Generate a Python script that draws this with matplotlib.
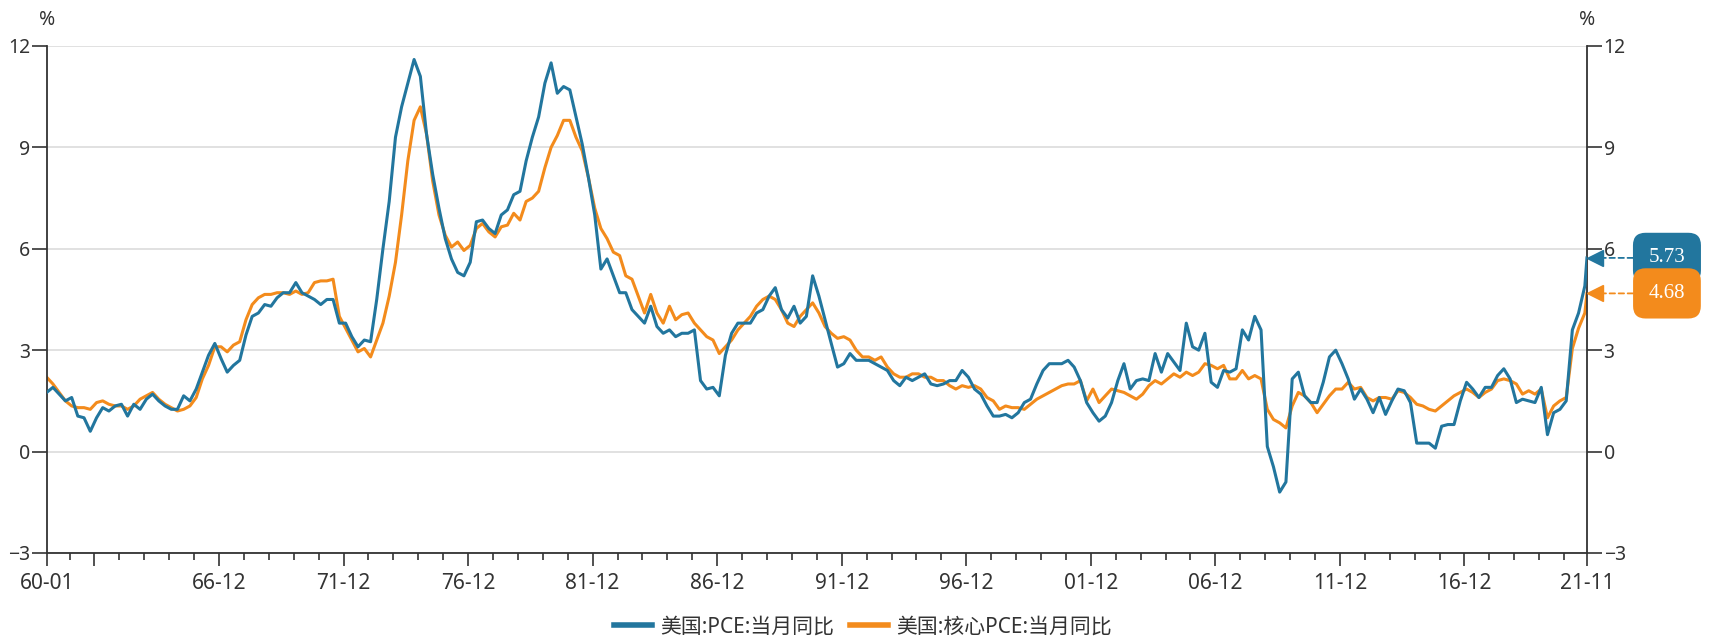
import matplotlib
matplotlib.use("Agg")
import matplotlib.pyplot as plt
import matplotlib.transforms as mtransforms
import numpy as np
import pandas as pd

# quarterly readings (Jan, Apr, Jul, Oct) 1960-2021, then 2021-11
pce = [
    1.75, 1.9, 1.7, 1.5,    1.6, 1.05, 1.0, 0.6,    1.0, 1.3, 1.2, 1.35,
    1.4, 1.05, 1.4, 1.25,   1.55, 1.7, 1.5, 1.35,   1.25, 1.25, 1.65, 1.5,
    1.85, 2.35, 2.85, 3.2,  2.75, 2.35, 2.55, 2.7,  3.45, 4.0, 4.1, 4.35,
    4.3, 4.55, 4.7, 4.7,    5.0, 4.7, 4.6, 4.5,     4.35, 4.5, 4.5, 3.8,
    3.8, 3.4, 3.1, 3.3,     3.25, 4.5, 6.0, 7.4,    9.3, 10.2, 10.9, 11.6,
    11.1, 9.4, 8.2, 7.2,    6.3, 5.7, 5.3, 5.2,     5.6, 6.8, 6.85, 6.6,
    6.45, 7.0, 7.15, 7.6,   7.7, 8.6, 9.3, 9.9,     10.9, 11.5, 10.6, 10.8,
    10.7, 9.9, 9.1, 8.1,    7.0, 5.4, 5.7, 5.2,     4.7, 4.7, 4.2, 4.0,
    3.8, 4.3, 3.7, 3.5,     3.6, 3.4, 3.5, 3.5,     3.6, 2.1, 1.85, 1.9,
    1.65, 2.85, 3.5, 3.8,   3.8, 3.8, 4.1, 4.2,     4.6, 4.85, 4.2, 3.95,
    4.3, 3.8, 4.0, 5.2,     4.6, 3.9, 3.2, 2.5,     2.6, 2.9, 2.7, 2.7,
    2.7, 2.6, 2.5, 2.4,     2.1, 1.95, 2.2, 2.1,    2.2, 2.3, 2.0, 1.95,
    2.0, 2.1, 2.1, 2.4,     2.2, 1.85, 1.7, 1.35,   1.05, 1.05, 1.1, 1.0,
    1.15, 1.45, 1.55, 2.0,  2.4, 2.6, 2.6, 2.6,     2.7, 2.5, 2.1, 1.45,
    1.15, 0.9, 1.05, 1.45,  2.1, 2.6, 1.85, 2.1,    2.15, 2.1, 2.9, 2.35,
    2.9, 2.65, 2.4, 3.8,    3.1, 3.0, 3.5, 2.05,    1.9, 2.4, 2.35, 2.45,
    3.6, 3.3, 4.0, 3.6,     0.15, -0.45, -1.2, -0.9, 2.15, 2.35, 1.65, 1.45,
    1.45, 2.05, 2.8, 3.0,   2.6, 2.15, 1.55, 1.85,  1.55, 1.15, 1.6, 1.1,
    1.5, 1.85, 1.8, 1.45,   0.25, 0.25, 0.25, 0.1,  0.75, 0.8, 0.8, 1.5,
    2.05, 1.85, 1.6, 1.9,   1.9, 2.25, 2.45, 2.15,  1.45, 1.55, 1.5, 1.45,
    1.9, 0.5, 1.15, 1.25,   1.5, 3.6, 4.1, 4.9,
    5.73,
]
core = [
    2.2, 2.0, 1.75, 1.5,    1.35, 1.3, 1.3, 1.25,   1.45, 1.5, 1.4, 1.35,
    1.35, 1.25, 1.35, 1.55, 1.65, 1.75, 1.55, 1.4,  1.3, 1.2, 1.25, 1.35,
    1.6, 2.15, 2.55, 3.1,   3.1, 2.95, 3.15, 3.25,  3.9, 4.35, 4.55, 4.65,
    4.65, 4.7, 4.7, 4.65,   4.75, 4.65, 4.7, 5.0,   5.05, 5.05, 5.1, 4.0,
    3.65, 3.3, 2.95, 3.05,  2.8, 3.3, 3.8, 4.6,     5.6, 7.0, 8.6, 9.8,
    10.2, 9.4, 8.0, 7.0,    6.4, 6.05, 6.2, 5.95,   6.1, 6.6, 6.75, 6.5,
    6.35, 6.65, 6.7, 7.05,  6.85, 7.4, 7.5, 7.7,    8.4, 9.0, 9.35, 9.8,
    9.8, 9.3, 8.9, 8.1,     7.2, 6.6, 6.3, 5.9,     5.8, 5.2, 5.1, 4.6,
    4.1, 4.65, 4.1, 3.8,    4.3, 3.9, 4.05, 4.1,    3.8, 3.6, 3.4, 3.3,
    2.9, 3.1, 3.3, 3.6,     3.8, 4.0, 4.3, 4.5,     4.6, 4.5, 4.2, 3.8,
    3.7, 4.0, 4.2, 4.4,     4.1, 3.7, 3.5, 3.35,    3.4, 3.3, 3.0, 2.8,
    2.8, 2.7, 2.8, 2.5,     2.3, 2.2, 2.2, 2.3,     2.3, 2.2, 2.2, 2.1,
    2.1, 1.95, 1.85, 1.95,  1.9, 1.95, 1.85, 1.6,   1.5, 1.25, 1.35, 1.3,
    1.3, 1.25, 1.4, 1.55,   1.65, 1.75, 1.85, 1.95, 2.0, 2.0, 2.1, 1.5,
    1.85, 1.45, 1.65, 1.85, 1.8, 1.75, 1.65, 1.55,  1.7, 1.95, 2.1, 2.0,
    2.15, 2.3, 2.2, 2.35,   2.25, 2.35, 2.6, 2.55,  2.45, 2.55, 2.15, 2.15,
    2.4, 2.15, 2.25, 2.15,  1.25, 0.95, 0.85, 0.7,  1.35, 1.75, 1.65, 1.45,
    1.15, 1.4, 1.65, 1.85,  1.85, 2.05, 1.85, 1.9,  1.6, 1.5, 1.6, 1.6,
    1.55, 1.8, 1.75, 1.6,   1.4, 1.35, 1.25, 1.2,   1.35, 1.5, 1.65, 1.75,
    1.85, 1.75, 1.6, 1.75,  1.85, 2.1, 2.15, 2.1,   2.0, 1.7, 1.8, 1.7,
    1.85, 1.0, 1.35, 1.5,   1.6, 3.05, 3.65, 4.1,
    4.68,
]
dates = pd.date_range("1960-01-01", "2021-10-01", freq="QS-JAN").append(
    pd.DatetimeIndex(["2021-11-01"]))

series_names = ["美国:PCE:当月同比", "美国:核心PCE:当月同比"]
major_ticks = ["1960-01", "1961-12"] + [f"{y}-12" for y in range(1966, 2017, 5)] + ["2021-11"]
major_labels = ["60-01", ""] + [f"{y % 100:02d}-12" for y in range(1966, 2017, 5)] + ["21-11"]
minor_ticks = [f"{y}-12" for y in range(1960, 2021)]

BLUE = "#22769e"
ORANGE = "#f38b1c"
DARK = "#333333"

plt.rcParams["font.family"] = ["Noto Sans", "Noto Sans CJK SC", "DejaVu Sans"]

fig = plt.figure(figsize=(17.11, 6.43), dpi=100)
ax = fig.add_axes([0.0273, 0.140, 0.9002, 0.7885])

l1, = ax.plot(dates, pce, color=BLUE, lw=2.2, zorder=3)
l2, = ax.plot(dates, core, color=ORANGE, lw=2.2, zorder=2)

ax.set_xlim(pd.Timestamp("1960-01-01"), pd.Timestamp("2021-11-01"))
ax.set_ylim(-3, 12)
ax.set_yticks([-3, 0, 3, 6, 9, 12])
ax.yaxis.grid(True, color="#dedede", lw=1.3)
ax.set_axisbelow(True)

ax.set_xticks(pd.to_datetime(major_ticks))
ax.set_xticklabels(major_labels)
ax.set_xticks(pd.to_datetime(minor_ticks), minor=True)

for side in ["left", "right", "bottom"]:
    ax.spines[side].set_color(DARK)
    ax.spines[side].set_linewidth(1.3)
ax.spines["top"].set_visible(False)

ax.tick_params(axis="y", left=True, right=True, labelleft=True, labelright=True,
               length=11, width=1.2, color=DARK, labelcolor=DARK, labelsize=14, pad=1)
ax.tick_params(axis="x", which="major", length=9.5, width=1.2, color=DARK,
               labelcolor=DARK, labelsize=15, pad=5)
ax.tick_params(axis="x", which="minor", length=5, width=1.2, color=DARK)

for xf in (0, 1):
    ax.annotate("%", xy=(xf, 1), xycoords="axes fraction", xytext=(0, 26),
                textcoords="offset pixels", ha="center", va="center",
                fontsize=14, color=DARK)

# end-value markers and labels on the right
tri_trans = mtransforms.offset_copy(ax.transData, fig=fig, x=8, y=0, units="dots")
last_x = dates[-1]
for vals, c, z in [(pce, BLUE, 5), (core, ORANGE, 6)]:
    v = vals[-1]
    ax.plot([last_x], [v], marker="<", ms=11.5, color=c, transform=tri_trans,
            clip_on=False, zorder=z)
    ax.annotate(f"{v:.2f}", xy=(1, v), xycoords=("axes fraction", "data"),
                xytext=(80, 0), textcoords="offset pixels", ha="center", va="center",
                fontsize=15, color="white", family="Liberation Serif", zorder=z,
                bbox=dict(boxstyle="round,pad=0.75,rounding_size=0.6", fc=c, ec="none"),
                arrowprops=dict(arrowstyle="-", linestyle=(0, (3, 2)), color=c, lw=1.3,
                                shrinkA=0, shrinkB=11))

fig.legend([l1, l2], series_names, loc="center", bbox_to_anchor=(863 / 1711, 1 - 627 / 643),
           ncol=2, frameon=False, fontsize=15, handlelength=1.8, handletextpad=0.4,
           columnspacing=0.8, labelcolor=DARK)
for line in fig.legends[0].get_lines():
    line.set_linewidth(4)

fig.savefig("out.png", dpi=100, facecolor="white")
